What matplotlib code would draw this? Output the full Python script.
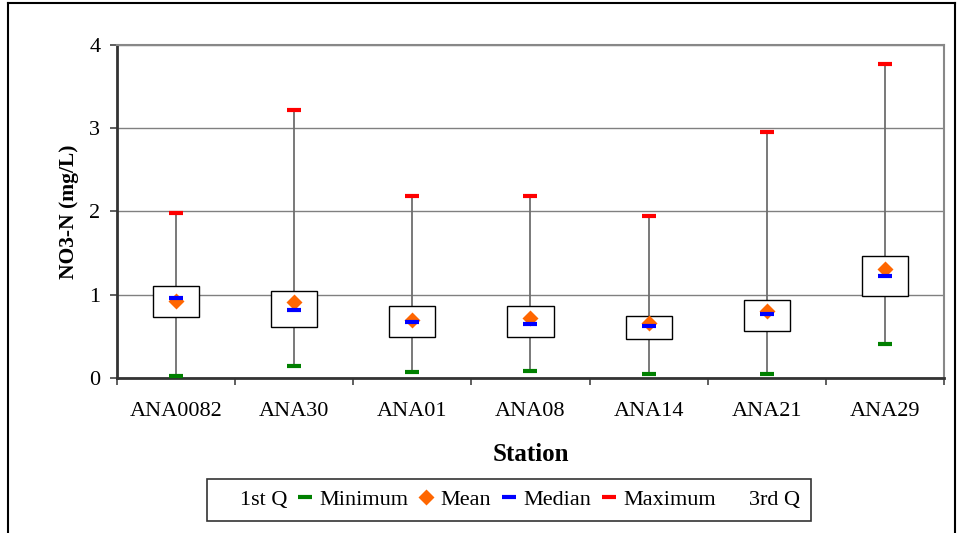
import matplotlib.pyplot as plt
from matplotlib.lines import Line2D
from matplotlib.patches import Rectangle
import numpy as np

plt.rcParams['font.family'] = ['Liberation Serif', 'DejaVu Serif']

stations = ['ANA0082', 'ANA30', 'ANA01', 'ANA08', 'ANA14', 'ANA21', 'ANA29']
minimum = [0.02, 0.14, 0.07, 0.09, 0.05, 0.05, 0.41]
q1 = [0.73, 0.61, 0.49, 0.49, 0.47, 0.56, 0.99]
median = [0.96, 0.82, 0.67, 0.65, 0.62, 0.77, 1.23]
mean = [0.92, 0.91, 0.70, 0.72, 0.66, 0.81, 1.31]
q3 = [1.11, 1.04, 0.87, 0.87, 0.75, 0.94, 1.47]
maximum = [1.98, 3.22, 2.19, 2.19, 1.95, 2.95, 3.77]

fig = plt.figure(figsize=(9.58, 5.33), dpi=100)
ax = fig.add_axes([0.1221, 0.2908, 0.8633, 0.6248])

x = np.arange(len(stations))
box_w = 0.39

ax.set_ylim(0, 4)
ax.set_xlim(-0.5, len(stations) - 0.5)
ax.set_yticks([0, 1, 2, 3, 4])
ax.yaxis.grid(True, color='#808080', lw=1)
ax.set_axisbelow(True)

# whiskers
ax.vlines(x, minimum, maximum, color='#6e6e6e', lw=1.3, zorder=2)
# boxes
for i in range(len(stations)):
    ax.add_patch(Rectangle((x[i] - box_w / 2, q1[i]), box_w, q3[i] - q1[i],
                           facecolor='white', edgecolor='black', lw=1.0, zorder=3))

ax.plot(x, mean, 'D', color='#FF6600', ms=8, zorder=4, mec='none')
ax.plot(x, median, '_', color='#0000FF', ms=10.5, mew=3, zorder=5)
ax.plot(x, minimum, '_', color='#008000', ms=10.5, mew=3, zorder=5)
ax.plot(x, maximum, '_', color='#FF0000', ms=10.5, mew=3, zorder=5)

ax.set_xticks(x)
ax.set_xticklabels(stations, fontsize=16)
ax.set_xticks(np.arange(-0.5, len(stations)), minor=True)
ax.tick_params(axis='x', which='major', length=0, pad=17)
ax.tick_params(axis='x', which='minor', length=5, width=1.2, color='#444444')
ax.tick_params(axis='y', labelsize=16, length=5, width=1.2, color='#444444', pad=7)

for s in ['left', 'bottom']:
    ax.spines[s].set_color('#333333')
    ax.spines[s].set_linewidth(2)
for s in ['top', 'right']:
    ax.spines[s].set_color('#888888')
    ax.spines[s].set_linewidth(1.5)

ax.set_xlabel('Station', fontsize=18, fontweight='bold', labelpad=16)
ax.set_ylabel('NO3-N (mg/L)', fontsize=15.5, fontweight='bold', labelpad=7)

handles = [
    Line2D([], [], ls='none', marker='s', color='white', mec='none'),
    Line2D([], [], ls='none', marker='_', color='#008000', ms=10, mew=3),
    Line2D([], [], ls='none', marker='D', color='#FF6600', ms=8, mec='none'),
    Line2D([], [], ls='none', marker='_', color='#0000FF', ms=10, mew=3),
    Line2D([], [], ls='none', marker='_', color='#FF0000', ms=10, mew=3),
    Line2D([], [], ls='none', marker='s', color='white', mec='none'),
]
labels = ['1st Q', 'Minimum', 'Mean', 'Median', 'Maximum', '3rd Q']
leg = fig.legend(handles, labels, loc='center', bbox_to_anchor=(0.531, 0.062),
                 ncol=6, fontsize=16, frameon=True, fancybox=False,
                 edgecolor='black', handlelength=0.7, handletextpad=0.3,
                 columnspacing=0.45, borderpad=0.5)
leg.get_frame().set_linewidth(1.2)

# outer chart frame
fig.add_artist(Line2D([0.008, 0.008], [0, 0.995], color='black', lw=1.5))
fig.add_artist(Line2D([0.008, 0.997], [0.995, 0.995], color='black', lw=1.5))
fig.add_artist(Line2D([0.997, 0.997], [0, 0.995], color='black', lw=1.5))

fig.savefig('out.png', dpi=100)
